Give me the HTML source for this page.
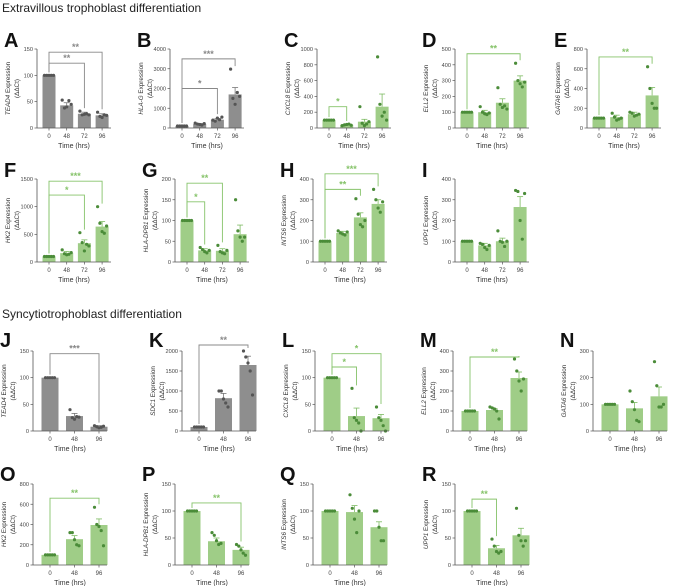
<!DOCTYPE html>
<html><head><meta charset="utf-8"><style>
html,body{margin:0;padding:0;background:#fff;}
svg{display:block;font-family:"Liberation Sans",Arial,sans-serif;}
</style></head><body>
<svg id="fig" width="677" height="586" viewBox="0 0 677 586" xmlns="http://www.w3.org/2000/svg">
<text x="2" y="12" font-size="12" fill="#222">Extravillous trophoblast differentiation</text>
<text x="2" y="318" font-size="12" fill="#222">Syncytiotrophoblast differentiation</text>
</svg>
<script>
const times4 = ["0","48","72","96"];
const times3 = ["0","48","96"];
const B100 = [100,100,100,100,100];
// Panel data
const meansA=[100,43,27,24], errA=[0,5,3,3], ptsA=[B100,[53,38,40,52,45],[32,25,26,27,25],[30,22,20,25,24]], ticksA=[0,50,100,150];
const meansB=[100,200,420,1700], errB=[0,30,50,350], ptsB=[B100,[250,200,180,150,220],[400,350,500,420,550],[2980,1500,1200,1800,1600]], ticksB=[0,1000,2000,3000,4000];
const meansC=[100,40,80,270], errC=[0,8,30,160], ptsC=[B100,[30,40,45,50,35],[270,60,30,50,80],[900,300,150,200,100]], ticksC=[0,200,400,600,800,1000];
const meansD=[100,100,160,300], errD=[0,12,25,30], ptsD=[B100,[135,100,90,85,95],[255,150,130,140,120],[410,300,280,260,290]], ticksD=[0,100,200,300,400,500];
const meansE=[100,110,140,330], errE=[0,20,20,80], ptsE=[B100,[150,110,80,90,100],[160,150,120,130,140],[620,400,250,200,200]], ticksE=[0,200,400,600,800];
const meansF=[100,160,340,640], errF=[0,30,60,90], ptsF=[B100,[220,150,130,140,170],[530,350,200,320,290],[1000,700,550,520,650]], ticksF=[0,500,1000,1500];
const meansG=[100,28,27,67], errG=[0,4,5,22], ptsG=[B100,[35,30,25,22,28],[40,25,22,20,28],[150,75,60,50,60]], ticksG=[0,50,100,150,200];
const meansH=[100,140,215,280], errH=[0,8,22,20], ptsH=[B100,[150,140,135,130,145],[305,230,180,170,200],[350,300,260,240,290]], ticksH=[0,100,200,300,400];
const meansI=[100,80,100,265], errI=[0,10,15,50], ptsI=[B100,[90,85,70,60,80],[150,100,95,75,100],[345,340,200,110,330]], ticksI=[0,100,200,300,400];
const meansJ=[100,28,8], errJ=[0,5,2], ptsJ=[B100,[40,25,22,27,26],[10,8,6,7,9]], ticksJ=[0,50,100,150];
const meansK=[100,820,1650], errK=[0,120,220], ptsK=[B100,[1000,1000,800,700,600],[2000,1850,1700,1500,900]], ticksK=[0,500,1000,1500,2000];
const meansL=[100,28,24], errL=[0,15,7], ptsL=[B100,[80,25,20,15,0],[45,25,20,10,0]], ticksL=[0,50,100,150];
const meansM=[100,105,265], errM=[0,8,30], ptsM=[B100,[120,115,110,100,60],[360,300,250,200,260]], ticksM=[0,100,200,300,400];
const meansN=[100,85,130], errN=[0,22,35], ptsN=[B100,[150,110,80,40,35],[260,170,90,90,100]], ticksN=[0,100,200,300];
const meansO=[100,255,395], errO=[0,35,60], ptsO=[B100,[320,320,250,200,190],[570,400,380,340,190]], ticksO=[0,200,400,600,800];
const meansP=[100,44,28], errP=[0,6,5], ptsP=[B100,[60,55,45,38,40],[38,35,28,22,18]], ticksP=[0,50,100,150];
const meansQ=[100,98,70], errQ=[0,12,10], ptsQ=[B100,[130,105,85,60,100],[100,100,70,45,45]], ticksQ=[0,50,100,150];
const meansR=[100,31,55], errR=[0,5,13], ptsR=[B100,[48,35,25,22,25],[105,55,45,35,45]], ticksR=[0,50,100,150];
// brackets: [fromIndex, toIndex, value, stars]
const brA=[[0,2,123,"**"],[0,3,144,"**"]], brB=[[0,2,2000,"*"],[0,3,3500,"***"]], brC=[[0,1,270,"*"]];
const brD=[[0,3,470,"**"]], brE=[[0,3,720,"**"]], brF=[[0,2,1210,"*"],[0,3,1460,"***"]];
const brG=[[0,1,145,"*"],[0,2,190,"**"]], brH=[[0,2,350,"**"],[0,3,425,"***"]], brJ=[[0,2,145,"***"]];
const brK=[[0,2,2150,"**"]], brL=[[0,1,120,"*"],[0,2,145,"*"]], brM=[[0,2,370,"**"]];
const brO=[[0,2,660,"**"]], brP=[[0,2,115,"**"]], brR=[[0,1,122,"**"]];

const rows=[{top:49,bot:128,lb:47},{top:179,bot:262,lb:177},{top:351,bot:431,lb:347},{top:484,bot:565,lb:481}];
const panels=[
 {id:"A",gene:"TEAD4",row:0,ax:37,gray:true,cats:times4,means:meansA,err:errA,pts:ptsA,ticks:ticksA,br:brA},
 {id:"B",gene:"HLA-G",row:0,ax:170,gray:true,cats:times4,means:meansB,err:errB,pts:ptsB,ticks:ticksB,br:brB},
 {id:"C",gene:"CXCL8",row:0,ax:317,cats:times4,means:meansC,err:errC,pts:ptsC,ticks:ticksC,br:brC},
 {id:"D",gene:"ELL2",row:0,ax:455,cats:times4,means:meansD,err:errD,pts:ptsD,ticks:ticksD,br:brD},
 {id:"E",gene:"GATA6",row:0,ax:587,cats:times4,means:meansE,err:errE,pts:ptsE,ticks:ticksE,br:brE},
 {id:"F",gene:"HK2",row:1,ax:37,cats:times4,means:meansF,err:errF,pts:ptsF,ticks:ticksF,br:brF},
 {id:"G",gene:"HLA-DPB1",row:1,ax:175,cats:times4,means:meansG,err:errG,pts:ptsG,ticks:ticksG,br:brG},
 {id:"H",gene:"INTS6",row:1,ax:313,cats:times4,means:meansH,err:errH,pts:ptsH,ticks:ticksH,br:brH},
 {id:"I",gene:"UPP1",row:1,ax:455,cats:times4,means:meansI,err:errI,pts:ptsI,ticks:ticksI,br:[]},
 {id:"J",gene:"TEAD4",row:2,ax:33,gray:true,cats:times3,means:meansJ,err:errJ,pts:ptsJ,ticks:ticksJ,br:brJ},
 {id:"K",gene:"SDC1",row:2,ax:182,gray:true,cats:times3,means:meansK,err:errK,pts:ptsK,ticks:ticksK,br:brK},
 {id:"L",gene:"CXCL8",row:2,ax:315,cats:times3,means:meansL,err:errL,pts:ptsL,ticks:ticksL,br:brL},
 {id:"M",gene:"ELL2",row:2,ax:453,cats:times3,means:meansM,err:errM,pts:ptsM,ticks:ticksM,br:brM},
 {id:"N",gene:"GATA6",row:2,ax:593,cats:times3,means:meansN,err:errN,pts:ptsN,ticks:ticksN,br:[]},
 {id:"O",gene:"HK2",row:3,ax:33,cats:times3,means:meansO,err:errO,pts:ptsO,ticks:ticksO,br:brO},
 {id:"P",gene:"HLA-DPB1",row:3,ax:175,cats:times3,means:meansP,err:errP,pts:ptsP,ticks:ticksP,br:brP},
 {id:"Q",gene:"INTS6",row:3,ax:313,cats:times3,means:meansQ,err:errQ,pts:ptsQ,ticks:ticksQ,br:[]},
 {id:"R",gene:"UPP1",row:3,ax:455,cats:times3,means:meansR,err:errR,pts:ptsR,ticks:ticksR,br:brR}
];
const NS="http://www.w3.org/2000/svg";
const svg=document.getElementById("fig");
function mk(tag,attrs,parent,txt){const e=document.createElementNS(NS,tag);for(const k in attrs)e.setAttribute(k,attrs[k]);if(txt!==undefined)e.textContent=txt;parent.appendChild(e);return e;}
panels.forEach(p=>{
  const r=rows[p.row];
  const g=mk("g",{},svg);
  
  
  const ymax=p.ticks[p.ticks.length-1];
  const y=v=>r.bot-v/ymax*(r.bot-r.top);
  const n=p.cats.length;
  const W=74;
  const xs=i=> n===4 ? p.ax+12+i*17.7 : p.ax+17+i*24.5;
  const bw= n===4 ? 13 : 17;
  const barC=p.gray?"#8e8e8e":"#9fcd87", dotC=p.gray?"#555":"#4b8c39", lineC=p.gray?"#777":"#7dbb62", brC=p.gray?"#888":"#86c36a";
  const L=mk("text",{x:p.ax-33,y:r.lb,"font-size":20,"font-weight":"bold",fill:"#111"},g,p.id);
  
  
  // y title
  const cy=(r.top+r.bot)/2;
  const t1=mk("text",{x:0,y:0,"font-size":6.3,fill:"#333","text-anchor":"middle",transform:`translate(${p.ax-27},${cy}) rotate(-90)`},g);
  
  
  mk("tspan",{"font-style":"italic"},t1,p.gene);
  mk("tspan",{},t1," Expression");
  const t2=mk("text",{x:0,y:0,"font-size":6.3,fill:"#333","text-anchor":"middle",transform:`translate(${p.ax-18},${cy}) rotate(-90)`},g,"(ΔΔCt)");
  
  
  // bars
  p.means.forEach((m,i)=>{
    const b=mk("rect",{x:xs(i)-bw/2,y:y(m),width:bw,height:r.bot-y(m),fill:barC},g);
    
    
    if(p.err[i]>0){
      mk("line",{x1:xs(i),x2:xs(i),y1:y(m),y2:y(m+p.err[i]),stroke:lineC,"stroke-width":0.8},g);
      mk("line",{x1:xs(i)-3,x2:xs(i)+3,y1:y(m+p.err[i]),y2:y(m+p.err[i]),stroke:lineC,"stroke-width":0.8},g);
    }
    const off=[-4.5,-2.2,0,2.2,4.5];
    p.pts[i].forEach((v,j)=>{
      const c=mk("circle",{cx:xs(i)+off[j%5],cy:y(v),r:1.6,fill:dotC},g);
      
      
    });
  });
  // axes
  mk("line",{x1:p.ax,x2:p.ax,y1:r.top,y2:r.bot,stroke:"#555","stroke-width":0.8},g);
  mk("line",{x1:p.ax,x2:p.ax+W,y1:r.bot,y2:r.bot,stroke:"#555","stroke-width":0.8},g);
  p.ticks.forEach(t=>{
    mk("line",{x1:p.ax-2.5,x2:p.ax,y1:y(t),y2:y(t),stroke:"#555","stroke-width":0.7},g);
    const tl=mk("text",{x:p.ax-4,y:y(t)+2,"font-size":5.6,fill:"#444","text-anchor":"end"},g,String(t));
    
    
  });
  p.cats.forEach((c,i)=>{
    mk("line",{x1:xs(i),x2:xs(i),y1:r.bot,y2:r.bot+2.5,stroke:"#555","stroke-width":0.7},g);
    const xl=mk("text",{x:xs(i),y:r.bot+10,"font-size":6,fill:"#444","text-anchor":"middle"},g,c);
    
    
  });
  const xt=mk("text",{x:p.ax+W/2,y:r.bot+20,"font-size":7,fill:"#333","text-anchor":"middle"},g,"Time (hrs)");
  
  
  // brackets
  p.br.forEach(b=>{
    const [a,c,v,s]=b;
    const yl=y(v);
    const top0=y(Math.max(...p.pts[a],p.means[a]+p.err[a]))-3;
    const top1=y(Math.max(...p.pts[c],p.means[c]+p.err[c]))-3;
    const pl=mk("polyline",{points:`${xs(a)},${top0} ${xs(a)},${yl} ${xs(c)},${yl} ${xs(c)},${top1}`,fill:"none",stroke:brC,"stroke-width":0.9},g);
    
    
    const st=mk("text",{x:(xs(a)+xs(c))/2,y:yl-2,"font-size":9,"font-weight":"bold",fill:brC,"text-anchor":"middle"},g,s);
    
    
  });
});
</script>
</body></html>
